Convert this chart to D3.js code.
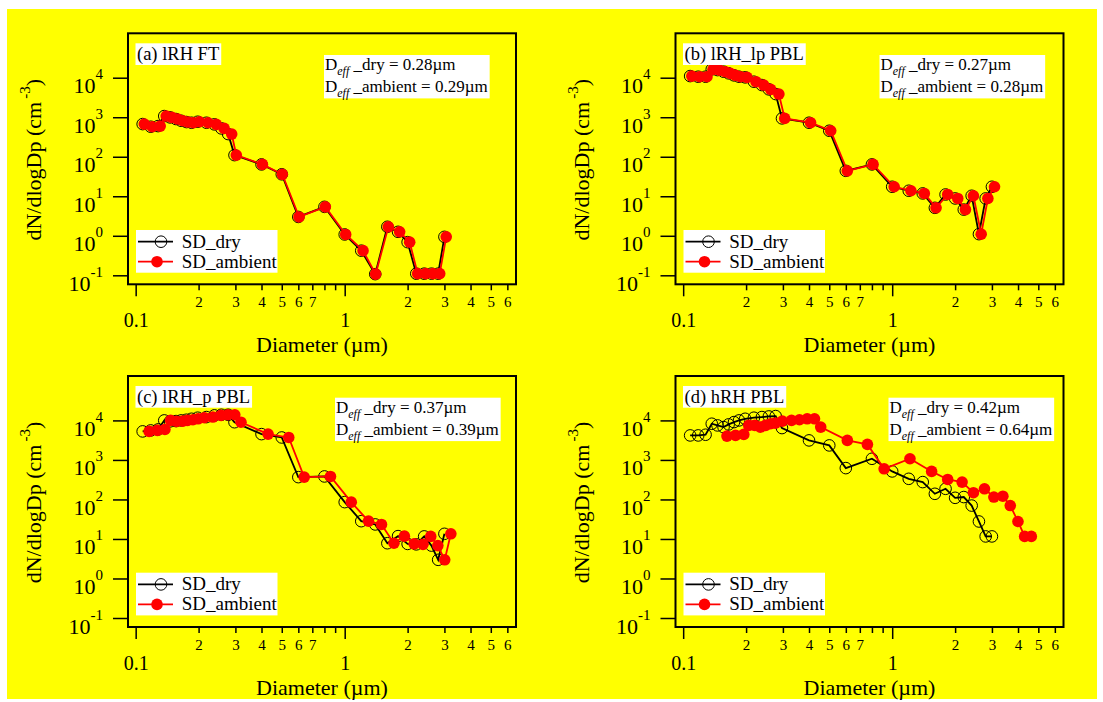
<!DOCTYPE html>
<html>
<head>
<meta charset="utf-8">
<script src="https://cdn.jsdelivr.net/npm/d3@7"></script>
<style>
  body { margin: 0; background: #fff; }
  svg { display: block; font-family: "Liberation Serif", "Times New Roman", serif; }
  text { white-space: pre; }
</style>
</head>
<body>
<div id="chart"></div>
<script>
// dry size bins (um), shared by all four panels
const dryDp = [0.108, 0.118, 0.128, 0.137, 0.146, 0.156, 0.165, 0.175, 0.185, 0.198,
               0.218, 0.238, 0.257, 0.277, 0.297, 0.40, 0.50, 0.60, 0.80, 1.0,
               1.2, 1.4, 1.6, 1.8, 2.0, 2.2, 2.4, 2.6, 2.8, 3.0];

// ambient diameters (um)
const ambDp_a = [0.110, 0.120, 0.131, 0.140, 0.149, 0.159, 0.168, 0.178, 0.189, 0.202,
                 0.222, 0.243, 0.265, 0.288, 0.303, 0.404, 0.503, 0.605, 0.808, 1.011,
                 1.224, 1.406, 1.618, 1.832, 2.046, 2.234, 2.44, 2.646, 2.848, 3.06];
const ambDp_b = [0.110, 0.120, 0.130, 0.139, 0.149, 0.159, 0.168, 0.178, 0.188, 0.202,
                 0.223, 0.243, 0.262, 0.287, 0.306, 0.407, 0.508, 0.610, 0.810, 1.022,
                 1.229, 1.424, 1.621, 1.843, 2.059, 2.241, 2.447, 2.665, 2.869, 3.087];
const ambDp_c = [0.116, 0.127, 0.138, 0.147, 0.157, 0.168, 0.177, 0.188, 0.199, 0.213,
                 0.234, 0.256, 0.276, 0.298, 0.319, 0.43, 0.54, 0.64, 0.855, 1.075,
                 1.30, 1.50, 1.72, 1.93, 2.15, 2.37, 2.58, 2.79, 3.01, 3.22];
const ambDp_d = [0.162, 0.178, 0.195, 0.206, 0.220, 0.234, 0.248, 0.262, 0.276, 0.298,
                 0.330, 0.360, 0.392, 0.425, 0.455, 0.610, 0.761, 0.915, 1.216, 1.544,
                 1.843, 2.160, 2.447, 2.764, 3.065, 3.385, 3.672, 3.997, 4.301, 4.630];

// dN/dlogDp (cm-3)
const dN_a = [671, 575, 597, 1070, 990, 900, 815, 755, 725, 769,
              725, 660, 521, 375, 110, 64, 36, 3.0, 5.4, 1.08,
              0.42, 0.107, 1.69, 1.26, 0.69, 0.11, 0.11, 0.11, 0.11, 0.94];
const dN_b = [11000, 10600, 10600, 16300, 15600, 14200, 12900, 11460, 10600, 10200,
              7920, 6520, 5070, 3860, 935, 726, 455, 44, 64, 17.4,
              13.8, 11.8, 5.1, 11.1, 8.8, 4.6, 10.3, 1.1, 8.8, 17.4];
const dN_c = [5270, 5580, 5910, 10000, 9440, 9620, 10000, 10400, 11000, 11700,
              12150, 13400, 13900, 13900, 9000, 4500, 3700, 367, 382, 85.5,
              28.2, 23.3, 7.8, 11.8, 7.5, 7.3, 11.6, 6.8, 2.97, 13.5];
const dNdry_d = [4170, 4170, 4340, 8240, 7470, 6780, 7930, 9070, 10000, 11000,
                 11700, 12150, 12600, 12880, 6400, 3120, 2330, 621, 1070, 512,
                 333, 275, 139, 186, 110, 115, 70, 27.7, 11.6, 11.6];
const dNamb_d = [4010, 4170, 4430, 7470, 7470, 6780, 7470, 8240, 8560, 9620,
                 10000, 10400, 11000, 11000, 6780, 3120, 2470, 597, 1070, 512,
                 321, 275, 148, 186, 115, 121, 70, 27.7, 11.6, 11.6];

const panelNames = ["(a) lRH FT", "(b) lRH_lp PBL", "(c) lRH_p PBL", "(d) hRH PBL"];
const deffDry = ["0.28", "0.27", "0.37", "0.42"];
const deffAmb = ["0.29", "0.28", "0.39", "0.64"];
const seriesNames = ["SD_dry", "SD_ambient"];

// axis ticks
const majorTicks = [0.1, 1];
const majorLabels = ["0.1", "1"];
const minorTicks = [0.2, 0.3, 0.4, 0.5, 0.6, 0.7, 0.8, 0.9, 2, 3, 4, 5, 6];
const minorLabels = ["2", "3", "4", "5", "6", "7", "", "", "2", "3", "4", "5", "6"];
const yTicks = [0.1, 1, 10, 100, 1000, 10000];
const yExp = ["-1", "0", "1", "2", "3", "4"];

const panels = [
  { left: 128,   top: 33.3, dp: ambDp_a, dryN: dN_a,    ambN: dN_a,    deffX: 196 },
  { left: 675.5, top: 33.3, dp: ambDp_b, dryN: dN_b,    ambN: dN_b,    deffX: 204 },
  { left: 128,   top: 376,  dp: ambDp_c, dryN: dN_c,    ambN: dN_c,    deffX: 207 },
  { left: 675.5, top: 376,  dp: ambDp_d, dryN: dNdry_d, ambN: dNamb_d, deffX: 213 }
];

const W = 1103, H = 702;
const pw = 388, ph = 251;

const svg = d3.select("#chart").append("svg")
    .attr("width", W)
    .attr("height", H);

svg.append("rect")
    .attr("x", 7).attr("y", 9)
    .attr("width", W - 13).attr("height", H - 12)
    .attr("fill", "#ffff00");

const x = d3.scaleLog().domain([0.0919, 6.60]).range([0, pw]);
const y = d3.scaleLog().domain([0.0592, 133000]).range([ph, 0]);

const line = d3.line()
    .x(d => x(d[0]))
    .y(d => y(d[1]));

panels.forEach((p, i) => {
  const g = svg.append("g")
      .attr("transform", "translate(" + p.left + "," + p.top + ")");

  // x axis: minor ticks with small digits, major ticks with bigger labels
  const minorAxis = g.append("g")
      .attr("transform", "translate(0," + ph + ")")
      .call(d3.axisBottom(x).tickValues(minorTicks).tickSize(6).tickPadding(6)
        .tickFormat((d, k) => minorLabels[k]));
  minorAxis.selectAll("text").attr("font-size", "15px");

  const majorAxis = g.append("g")
      .attr("transform", "translate(0," + ph + ")")
      .call(d3.axisBottom(x).tickValues(majorTicks).tickSize(12).tickPadding(17)
        .tickFormat((d, k) => majorLabels[k]));
  majorAxis.selectAll("text").attr("font-size", "20px");

  // y axis with 10^n labels
  const yAxis = g.append("g")
      .call(d3.axisLeft(y).tickValues(yTicks).tickSize(15).tickFormat(""));
  yAxis.selectAll(".tick").append("text")
      .attr("x", -25)
      .attr("y", 15)
      .attr("text-anchor", "end")
      .each(function(d, k) {
        const t = d3.select(this);
        t.append("tspan").attr("font-size", "22px").text("10");
        t.append("tspan").attr("font-size", "15px").attr("dy", -14).text(yExp[k]);
      });

  [minorAxis, majorAxis, yAxis].forEach(a => {
    a.attr("font-family", null).attr("font-size", null);
    a.select(".domain").remove();
    a.selectAll("line").attr("stroke", "black").attr("stroke-width", 1.5);
    a.selectAll("text").attr("fill", "black");
  });

  // axis titles
  g.append("text")
      .attr("x", pw / 2)
      .attr("y", ph + 68)
      .attr("text-anchor", "middle")
      .attr("font-size", "22px")
      .text("Diameter (\u00b5m)");

  const yt = g.append("text")
      .attr("transform", "translate(-87," + (ph / 2 + 1) + ") rotate(-90)")
      .attr("text-anchor", "middle")
      .attr("font-size", "22px");
  yt.append("tspan").text("dN/dlogDp (cm");
  yt.append("tspan").attr("font-size", "15px").attr("dx", 3).attr("dy", -11).text("-3");
  yt.append("tspan").attr("dy", 11).text(")");

  // series
  const dryData = dryDp.map((d, k) => [d, p.dryN[k]]);
  const ambData = p.dp.map((d, k) => [d, p.ambN[k]]);

  g.append("path").datum(dryData)
      .attr("fill", "none").attr("stroke", "black").attr("stroke-width", 1.8)
      .attr("d", line);
  g.selectAll(".dry").data(dryData).enter().append("circle")
      .attr("class", "dry")
      .attr("cx", d => x(d[0])).attr("cy", d => y(d[1]))
      .attr("r", 5.8)
      .attr("fill", "none").attr("stroke", "black").attr("stroke-width", 1);

  g.append("path").datum(ambData)
      .attr("fill", "none").attr("stroke", "red").attr("stroke-width", 1.8)
      .attr("d", line);
  g.selectAll(".amb").data(ambData).enter().append("circle")
      .attr("class", "amb")
      .attr("cx", d => x(d[0])).attr("cy", d => y(d[1]))
      .attr("r", 5.8)
      .attr("fill", "red");

  // frame
  g.append("rect")
      .attr("width", pw).attr("height", ph)
      .attr("fill", "none").attr("stroke", "black").attr("stroke-width", 2);

  // panel label
  const lbBox = g.append("rect").attr("fill", "white");
  const lb = g.append("text")
      .attr("x", 9).attr("y", 26.7)
      .attr("font-size", "18.5px")
      .text(panelNames[i]);
  const lbb = lb.node().getBBox();
  lbBox.attr("x", 7.5).attr("y", 10).attr("width", lbb.width + 3.5).attr("height", 21.7);

  // effective diameter box
  const dBox = g.append("rect").attr("fill", "white");
  const dg = g.append("g");
  [["_dry = ", deffDry[i]], ["_ambient = ", deffAmb[i]]].forEach((r, k) => {
    const t = dg.append("text")
        .attr("x", p.deffX + 1)
        .attr("y", 36.7 + k * 22.5)
        .attr("font-size", "17px");
    t.append("tspan").text("D");
    t.append("tspan").attr("font-size", "12px").attr("font-style", "italic").attr("dy", 5).text("eff");
    t.append("tspan").attr("dy", -5).text(" " + r[0] + r[1] + "\u00b5m");
  });
  const db = dg.node().getBBox();
  dBox.attr("x", p.deffX).attr("y", 21.7).attr("width", db.width + 3).attr("height", 43.4);

  // legend
  const lg = g.append("g").attr("transform", "translate(8,196.7)");
  lg.append("rect").attr("width", 141.5).attr("height", 42.7).attr("fill", "white");
  seriesNames.forEach((s, k) => {
    const cy = 11.7 + k * 20;
    const col = k === 0 ? "black" : "red";
    lg.append("line")
        .attr("x1", 2).attr("x2", 37).attr("y1", cy).attr("y2", cy)
        .attr("stroke", col).attr("stroke-width", 1.8);
    lg.append("circle")
        .attr("cx", k === 0 ? 25 : 21).attr("cy", cy).attr("r", 5.8)
        .attr("fill", k === 0 ? "none" : "red")
        .attr("stroke", k === 0 ? "black" : "none");
    lg.append("text")
        .attr("x", 45.7).attr("y", cy + 6)
        .attr("font-size", "19px")
        .text(s);
  });
});
</script>
</body>
</html>
